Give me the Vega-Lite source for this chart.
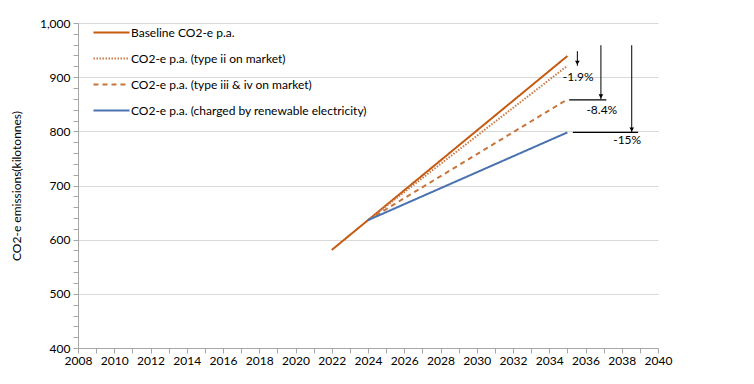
{
  "$schema": "https://vega.github.io/schema/vega-lite/v6.json",
  "width": 580,
  "height": 325,
  "autosize": "none",
  "padding": {"left": 78, "top": 23, "right": 96, "bottom": 36},
  "background": "white",
  "config": {
    "font": "Lato",
    "view": {"stroke": null},
    "axis": {"labelFont": "Lato", "titleFont": "Lato", "labelColor": "#000000", "titleColor": "#000000", "labelFontSize": 12, "titleFontSize": 12, "titleFontWeight": "normal", "domainColor": "#A6A6A6", "tickColor": "#A6A6A6"}
  },
  "datasets": {
    "lines": [
      {"series": "Baseline CO2-e p.a.", "year": 2022, "value": 581},
      {"series": "Baseline CO2-e p.a.", "year": 2024, "value": 636},
      {"series": "Baseline CO2-e p.a.", "year": 2035, "value": 939},
      {"series": "CO2-e p.a. (type ii on market)", "year": 2024, "value": 636},
      {"series": "CO2-e p.a. (type ii on market)", "year": 2035, "value": 921},
      {"series": "CO2-e p.a. (type iii & iv on market)", "year": 2024, "value": 636},
      {"series": "CO2-e p.a. (type iii & iv on market)", "year": 2035, "value": 859},
      {"series": "CO2-e p.a. (charged by renewable electricity)", "year": 2024, "value": 636},
      {"series": "CO2-e p.a. (charged by renewable electricity)", "year": 2035, "value": 798}
    ],
    "arrows": [
      {"year": 2035.55, "value": 948, "tip": 921},
      {"year": 2036.85, "value": 959, "tip": 859},
      {"year": 2038.55, "value": 959, "tip": 798}
    ],
    "hlines": [
      {"year": 2035.1, "x2": 2037.15, "value": 858},
      {"year": 2035.3, "x2": 2038.9, "value": 798}
    ],
    "labels": [
      {"year": 2035.6, "value": 900, "text": "-1.9%"},
      {"year": 2036.9, "value": 840, "text": "-8.4%"},
      {"year": 2038.3, "value": 784, "text": "-15%"}
    ]
  },
  "encoding": {
    "x": {"field": "year", "type": "quantitative", "scale": {"domain": [2008, 2040], "nice": false, "zero": false},
      "axis": {"tickCount": 32, "labelExpr": "datum.value % 2 === 0 ? datum.label : ''", "format": "d", "title": null, "grid": false, "ticks": true, "tickSize": 5, "labelPadding": 2, "labelOverlap": false, "labelBound": false, "labelFlush": false}},
    "y": {"field": "value", "type": "quantitative", "scale": {"domain": [400, 1000], "nice": false, "zero": false},
      "axis": {"tickCount": 30, "format": ",.0f", "labelExpr": "datum.value % 100 === 0 ? datum.label : ''",
        "title": "CO2-e emissions(kilotonnes)", "titlePadding": 16, "labelOverlap": false, "labelBound": false, "labelFlush": false,
        "grid": true, "gridColor": "#D9D9D9",
        "gridOpacity": {"condition": {"test": "datum.value % 100 === 0 && datum.value > 400", "value": 1}, "value": 0},
        "ticks": true, "tickSize": 5, "labelPadding": 3}}
  },
  "layer": [
    {
      "data": {"name": "lines"},
      "mark": {"type": "line", "strokeWidth": 2},
      "encoding": {
        "color": {"field": "series", "type": "nominal", "sort": null,
          "scale": {"domain": ["Baseline CO2-e p.a.", "CO2-e p.a. (type ii on market)", "CO2-e p.a. (type iii & iv on market)", "CO2-e p.a. (charged by renewable electricity)"],
            "range": ["#C55A11", "#CC7A45", "#C8743A", "#4A72B0"]},
          "legend": {"orient": "none", "legendX": 14, "legendY": -10, "title": null, "symbolType": "stroke", "symbolSize": 1300, "symbolStrokeWidth": 2, "labelFontSize": 12, "labelFont": "Lato", "labelColor": "#000000", "rowPadding": -9, "labelOffset": 0, "labelLimit": 400}},
        "strokeDash": {"field": "series", "type": "nominal", "sort": null,
          "scale": {"domain": ["Baseline CO2-e p.a.", "CO2-e p.a. (type ii on market)", "CO2-e p.a. (type iii & iv on market)", "CO2-e p.a. (charged by renewable electricity)"],
            "range": [[1, 0], [1.5, 1.5], [5, 4], [1, 0]]},
          "legend": null}
      }
    },
    {
      "data": {"name": "arrows"},
      "mark": {"type": "rule", "color": "#000000", "strokeWidth": 1},
      "encoding": {"y2": {"field": "tip"}}
    },
    {
      "data": {"name": "arrows"},
      "mark": {"type": "point", "shape": "triangle-down", "filled": true, "color": "#000000", "size": 22, "opacity": 1, "yOffset": -3},
      "encoding": {"y": {"field": "tip", "type": "quantitative"}}
    },
    {
      "data": {"name": "hlines"},
      "mark": {"type": "rule", "color": "#000000", "strokeWidth": 1.2},
      "encoding": {"x2": {"field": "x2"}}
    },
    {
      "data": {"name": "labels"},
      "mark": {"type": "text", "font": "Lato", "fontSize": 12, "color": "#000000"},
      "encoding": {"text": {"field": "text"}}
    }
  ]
}
